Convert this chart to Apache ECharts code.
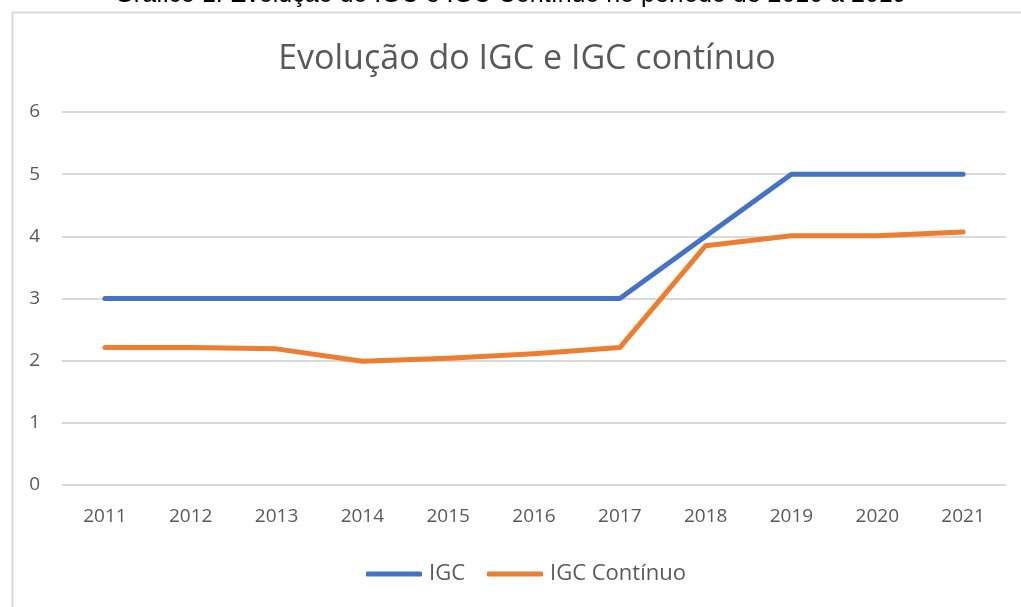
<!DOCTYPE html>
<html>
<head>
<meta charset="utf-8">
<script src="https://cdn.jsdelivr.net/npm/echarts@6/dist/echarts.min.js"></script>
<style>html,body{margin:0;padding:0;background:#fff;}#chart{width:1021px;height:607px;}</style>
</head>
<body>
<div id="chart"></div>
<script>
const categories = ['2011','2012','2013','2014','2015','2016','2017','2018','2019','2020','2021'];
const igc = [3, 3, 3, 3, 3, 3, 3, 4, 5, 5, 5];
const igcContinuo = [2.21, 2.21, 2.19, 1.99, 2.04, 2.11, 2.21, 3.85, 4.01, 4.01, 4.07];
const yTicks = [0, 1, 2, 3, 4, 5, 6];

const chart = echarts.init(document.getElementById('chart'));
const axisFont = "'Open Sans', 'Noto Sans', sans-serif";
chart.setOption({
  animation: false,
  backgroundColor: '#fff',
  graphic: [
    { type: 'rect', left: 10, top: 10, shape: { width: 1040, height: 640 }, style: { fill: 'none', stroke: '#d9d9d9', lineWidth: 2 }, z: -1 },
    { type: 'text', left: 'center', top: -17, style: { text: 'Gráfico 1: Evolução do IGC e IGC Contínuo no período de 2010 a 2019', font: "25px 'Liberation Sans', Arial, sans-serif", fill: '#000' } }
  ],
  title: {
    text: 'Evolução do IGC e IGC contínuo',
    left: 522, top: 37, textAlign: 'center',
    textStyle: { fontFamily: axisFont, fontSize: 34, fontWeight: 'normal', color: '#595959' }
  },
  legend: {
    bottom: 17, left: 361,
    itemWidth: 56, itemHeight: 5, itemGap: 22,
    icon: 'roundRect',
    textStyle: { fontFamily: axisFont, fontSize: 22, color: '#595959', padding: [0, 0, 0, 2] },
    data: ['IGC', 'IGC Contínuo']
  },
  grid: { left: 62, right: 15, top: 112, bottom: 122 },
  xAxis: {
    type: 'category', data: categories, boundaryGap: true,
    axisLine: { show: false }, axisTick: { show: false },
    axisLabel: { fontFamily: axisFont, fontSize: 19, color: '#595959', margin: 22 }
  },
  yAxis: {
    type: 'value', min: 0, max: 6, interval: 1,
    axisLine: { show: false }, axisTick: { show: false },
    splitLine: { lineStyle: { color: '#d9d9d9', width: 2 } },
    axisLabel: { fontFamily: axisFont, fontSize: 19, color: '#595959', margin: 22, formatter: v => yTicks.includes(v) ? String(v) : '' }
  },
  series: [
    { name: 'IGC', type: 'line', data: igc, symbol: 'none', color: '#4472C4', lineStyle: { width: 5, cap: 'round', join: 'round' } },
    { name: 'IGC Contínuo', type: 'line', data: igcContinuo, symbol: 'none', color: '#ED7D31', lineStyle: { width: 5, cap: 'round', join: 'round' } }
  ]
});
</script>
</body>
</html>
